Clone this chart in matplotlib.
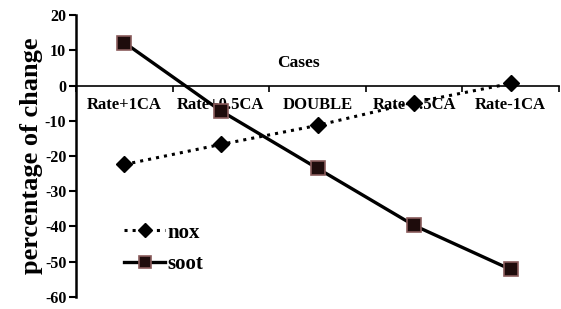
import matplotlib
matplotlib.use('Agg')
import matplotlib.pyplot as plt

cases = ['Rate+1CA', 'Rate+0.5CA', 'DOUBLE', 'Rate-0.5CA', 'Rate-1CA']
nox = [-22.4, -16.7, -11.3, -4.8, 0.6]
soot = [12.2, -7.2, -23.5, -39.7, -52.2]

plt.rcParams['font.family'] = 'Liberation Serif'
plt.rcParams['font.weight'] = 'bold'
plt.rcParams['axes.unicode_minus'] = False

fig = plt.figure(figsize=(5.61, 3.09), dpi=100)
ax = fig.add_axes([0.1355, 0.039, 0.861, 0.912])

x = list(range(len(cases)))
ax.plot(x, nox, linestyle=':', color='black', linewidth=2.2, marker='D',
        markersize=8, markerfacecolor='black', markeredgecolor='black', label='nox')
ax.plot(x, soot, linestyle='-', color='black', linewidth=2.4, marker='s',
        markersize=10, markerfacecolor='#1e0c0c', markeredgecolor='#8a5c5c',
        markeredgewidth=1.2, label='soot')

ax.set_xlim(-0.5, len(cases) - 0.5)
ax.set_ylim(-60, 20)
ax.set_yticks(range(-60, 21, 10))
ax.tick_params(axis='y', labelsize=11.5, width=1.5, length=5, direction='out', pad=2)

ax.spines['top'].set_visible(False)
ax.spines['right'].set_visible(False)
ax.spines['bottom'].set_position(('data', 0))
ax.spines['left'].set_linewidth(1.8)
ax.spines['bottom'].set_linewidth(1.2)

ax.set_xticks(x)
ax.set_xticklabels(cases, fontsize=12)
ax.set_xticks([i - 0.5 for i in range(len(cases) + 1)], minor=True)
ax.tick_params(axis='x', which='major', length=0, pad=8)
ax.tick_params(axis='x', which='minor', length=4, width=1.2, direction='out')

ax.text(0.5 * (len(cases) - 1) - 0.2, 6.5, 'Cases', ha='center', va='center', fontsize=12.5)
ax.set_ylabel('percentage of change', fontsize=19, fontweight='bold', labelpad=1)

ax.legend(loc='lower left', bbox_to_anchor=(0.06, 0.015), frameon=False,
          fontsize=15, handlelength=2.0, handletextpad=0.1, labelspacing=0.55,
          markerscale=0.9)

fig.savefig('out.png', dpi=100)
